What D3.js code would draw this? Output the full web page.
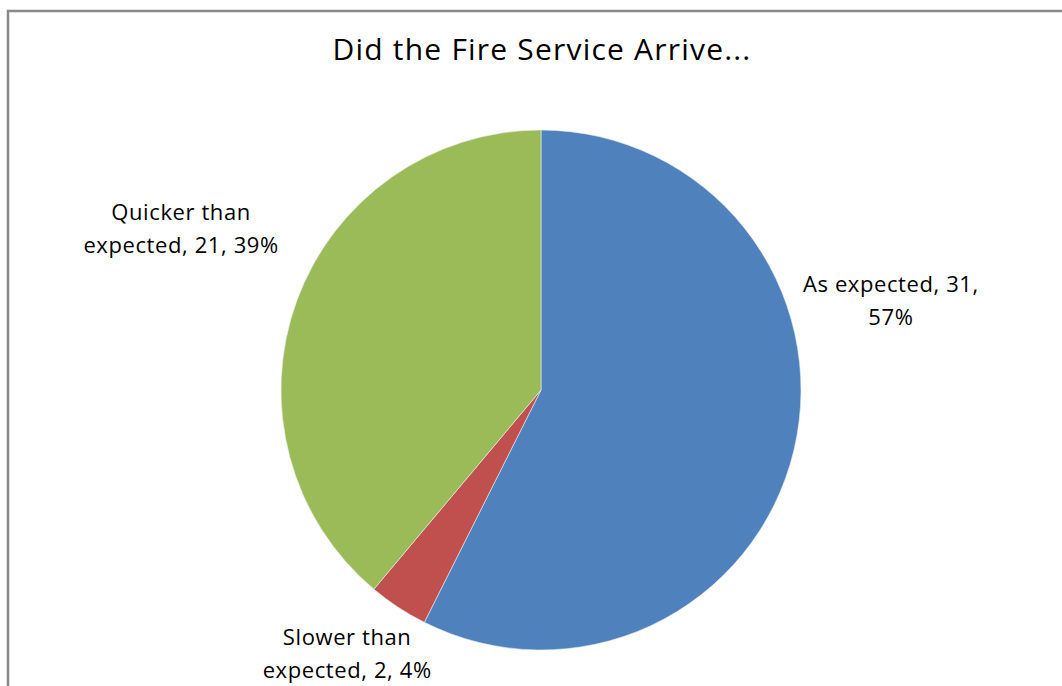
<!DOCTYPE html>
<html>
<head>
<meta charset="utf-8">
<script src="https://cdn.jsdelivr.net/npm/d3@7"></script>
<style>
  body { margin: 0; background: #fff; }
  svg { display: block; }
  text { font-family: "Open Sans", Lato, sans-serif; fill: #000; }
</style>
</head>
<body>
<div id="chart"></div>
<script>

var categories = ["As expected", "Slower than expected", "Quicker than expected"];
var counts = [31, 2, 21];
var colors = ["#4F81BD", "#C0504D", "#9BBB59"];
// label text lines as printed in the chart
var labelLines = [
  ["As expected, 31,", "57%"],
  ["Slower than", "expected, 2, 4%"],
  ["Quicker than", "expected, 21, 39%"]
];
// nudges from the outer label arc, like excel's "best fit"
var labelShift = [[58, -162], [-29, 9], [-78, -62]];

var width = 1062, height = 686;
var cx = 541, cy = 390, radius = 260;

var svg = d3.select("#chart").append("svg")
  .attr("width", width)
  .attr("height", height);

// chart area border (runs off the right and bottom edge)
svg.append("rect")
  .attr("x", 8)
  .attr("y", 11)
  .attr("width", width + 20)
  .attr("height", height + 20)
  .attr("fill", "none")
  .attr("stroke", "#898989")
  .attr("stroke-width", 2.5);

svg.append("text")
  .attr("x", cx + 1)
  .attr("y", 60)
  .attr("text-anchor", "middle")
  .style("font-size", "30px")
  .style("letter-spacing", "1.2px")
  .text("Did the Fire Service Arrive...");

var data = categories.map(function(c, i){
  return {name: c, value: counts[i], color: colors[i], lines: labelLines[i], shift: labelShift[i]};
});

var pie = d3.pie()
  .sort(null)
  .value(function(d){ return d.value; });

var arc = d3.arc().innerRadius(0).outerRadius(radius);
var labelArc = d3.arc().innerRadius(300).outerRadius(300);

var g = svg.append("g")
  .attr("transform", "translate(" + cx + "," + cy + ")");

var arcs = pie(data);

g.selectAll(".slice")
  .data(arcs)
  .enter().append("path")
  .attr("class", "slice")
  .attr("d", arc)
  .attr("fill", function(d){ return d.data.color; })
  .attr("stroke", "#e8eef5")
  .attr("stroke-width", 0.6);

var labels = g.selectAll(".label")
  .data(arcs)
  .enter().append("text")
  .attr("class", "label")
  .attr("text-anchor", "middle")
  .style("font-size", "22px")
  .style("letter-spacing", "0.6px")
  .attr("transform", function(d){
    var c = labelArc.centroid(d);
    return "translate(" + (c[0] + d.data.shift[0]) + "," + (c[1] + d.data.shift[1]) + ")";
  });

labels.selectAll("tspan")
  .data(function(d){ return d.data.lines; })
  .enter().append("tspan")
  .attr("x", 0)
  .attr("y", function(d, i){ return -5 + i * 33; })
  .text(function(d){ return d; });

</script>
</body>
</html>
